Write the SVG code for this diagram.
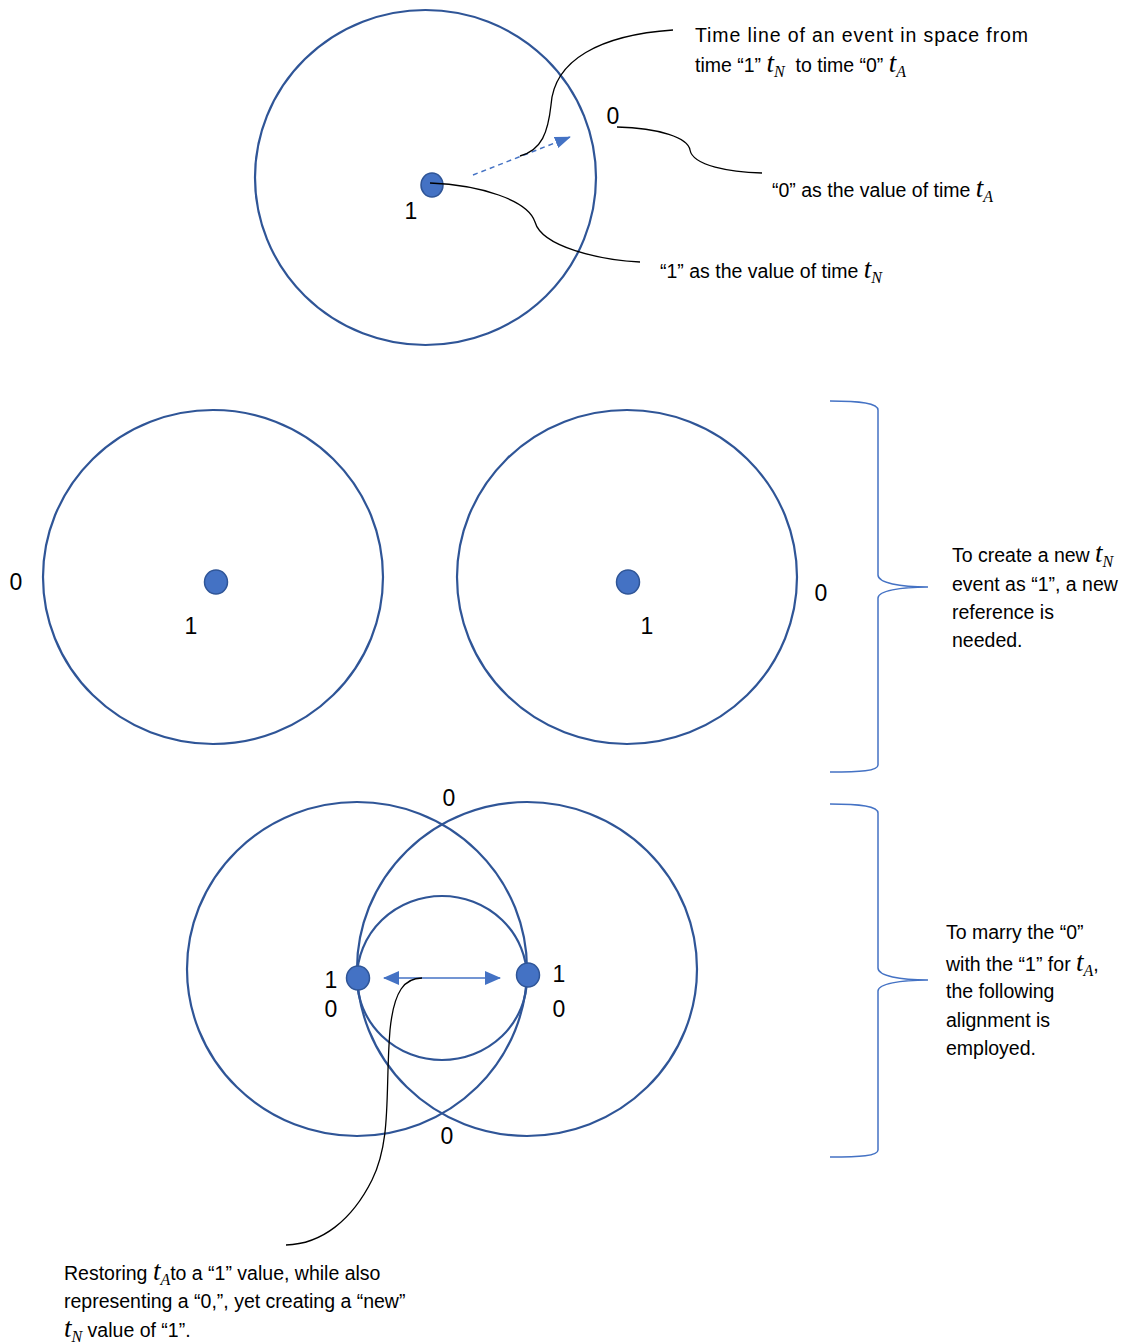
<svg xmlns="http://www.w3.org/2000/svg" width="1131" height="1343" viewBox="0 0 1131 1343">
<style>
.c{fill:none;stroke:#2F5597;stroke-width:2.2}
.d{fill:#4472C4;stroke:#2F5597;stroke-width:1.5}
.k{fill:none;stroke:#000;stroke-width:1.3}
.b{fill:none;stroke:#4472C4;stroke-width:1.5}
.t{font-family:"Liberation Sans",Arial,sans-serif;font-size:19.5px;fill:#000}
.n{font-family:"Liberation Sans",Arial,sans-serif;font-size:23px;fill:#000}
.m{font-family:"Liberation Serif","Times New Roman",serif;font-style:italic;font-size:27px}
.s{font-family:"Liberation Serif","Times New Roman",serif;font-style:italic;font-size:16px}
</style>
<defs>
<marker id="ah" markerWidth="16" markerHeight="12" refX="15" refY="6" orient="auto" markerUnits="userSpaceOnUse">
<path d="M0,0 L16,6 L0,12 z" fill="#4472C4"/>
</marker>
<marker id="ah2" markerWidth="16" markerHeight="14" refX="15" refY="7" orient="auto-start-reverse" markerUnits="userSpaceOnUse">
<path d="M0,0 L16,7 L0,14 z" fill="#4472C4"/>
</marker>
</defs>

<g id="top">
<ellipse class="c" cx="425.5" cy="177.5" rx="170.5" ry="167.5"/>
<ellipse id="dot-top" class="d" cx="432" cy="185" rx="11" ry="12"/>
<text class="n" x="411" y="219" text-anchor="middle">1</text>
<text class="n" x="613" y="124" text-anchor="middle">0</text>
</g>

<g id="mid-left">
<ellipse class="c" cx="213" cy="577" rx="170" ry="167"/>
<ellipse class="d" cx="216" cy="582" rx="11.5" ry="12"/>
<text class="n" x="191" y="634" text-anchor="middle">1</text>
<text class="n" x="16" y="590" text-anchor="middle">0</text>
</g>

<g id="mid-right">
<ellipse class="c" cx="627" cy="577" rx="170" ry="167"/>
<ellipse class="d" cx="628" cy="582" rx="11.5" ry="12"/>
<text class="n" x="647" y="634" text-anchor="middle">1</text>
<text class="n" x="821" y="601" text-anchor="middle">0</text>
</g>

<g id="bottom">
<ellipse class="c" cx="357" cy="969" rx="170" ry="167"/>
<ellipse class="c" cx="527" cy="969" rx="170" ry="167"/>
<ellipse class="c" cx="442" cy="978" rx="85" ry="82"/>
<ellipse class="d" cx="358" cy="978" rx="11.5" ry="12"/>
<ellipse class="d" cx="528" cy="975" rx="11.5" ry="12"/>
<text class="n" x="331" y="988" text-anchor="middle">1</text>
<text class="n" x="331" y="1017" text-anchor="middle">0</text>
<text class="n" x="559" y="982" text-anchor="middle">1</text>
<text class="n" x="559" y="1017" text-anchor="middle">0</text>
<text class="n" x="449" y="806" text-anchor="middle">0</text>
<text class="n" x="447" y="1144" text-anchor="middle">0</text>
</g>

<g id="connectors">
<line x1="473" y1="175" x2="570" y2="137" stroke="#4472C4" stroke-width="1.5" stroke-dasharray="5,4" marker-end="url(#ah)"/>
<path class="k" d="M520,156 C542,150 548,132 551,105 C554,60 600,35 673,30"/>
<path class="k" d="M617,127 C660,128 688,138 690,150 C693,166 730,172 762,173"/>
<path class="k" d="M430,183 C480,185 528,200 535,222 C542,247 600,260 640,262"/>
<line x1="384" y1="978" x2="500" y2="978" stroke="#4472C4" stroke-width="1.5" marker-start="url(#ah2)" marker-end="url(#ah2)"/>
<path class="k" d="M422,978 C405,978 394,990 390,1030 C385,1090 392,1140 372,1180 C352,1220 322,1244 286,1245"/>
<path class="b" d="M830,401 C860,401 878,403 878,410 L878,575 C878,583 900,587 928,587 C900,587 878,591 878,598 L878,765 C878,771 860,772 830,772"/>
<path class="b" d="M830,804 C860,804 878,806 878,813 L878,968 C878,976 900,980 928,980 C900,980 878,984 878,991 L878,1150 C878,1156 860,1157 830,1157"/>
</g>

<g id="label-timeline">
<text class="t" x="695" y="42" textLength="333" lengthAdjust="spacing">Time line of an event in space from</text>
<text class="t" x="695" y="72">time “1” <tspan class="m">t</tspan><tspan class="s" dy="5">N</tspan><tspan dy="-5">&#160; to time “0” </tspan><tspan class="m">t</tspan><tspan class="s" dy="5">A</tspan></text>
</g>
<g id="label-zero">
<text class="t" x="772" y="197">“0” as the value of time <tspan class="m">t</tspan><tspan class="s" dy="5">A</tspan></text>
</g>
<g id="label-one">
<text class="t" x="660" y="278">“1” as the value of time <tspan class="m">t</tspan><tspan class="s" dy="5">N</tspan></text>
</g>
<g id="label-create">
<text class="t" x="952" y="562">To create a new <tspan class="m">t</tspan><tspan class="s" dy="5">N</tspan></text>
<text class="t" x="952" y="591">event as “1”, a new</text>
<text class="t" x="952" y="619">reference is</text>
<text class="t" x="952" y="647">needed.</text>
</g>
<g id="label-marry">
<text class="t" x="946" y="939">To marry the “0”</text>
<text class="t" x="946" y="971">with the “1” for <tspan class="m">t</tspan><tspan class="s" dy="5">A</tspan><tspan dy="-5">,</tspan></text>
<text class="t" x="946" y="998">the following</text>
<text class="t" x="946" y="1027">alignment is</text>
<text class="t" x="946" y="1055">employed.</text>
</g>
<g id="label-restore">
<text class="t" x="64" y="1280">Restoring <tspan class="m">t</tspan><tspan class="s" dy="5">A</tspan><tspan dy="-5">to a “1” value, while also</tspan></text>
<text class="t" x="64" y="1308">representing a “0,”, yet creating a “new”</text>
<text class="t" x="64" y="1337"><tspan class="m">t</tspan><tspan class="s" dy="5">N</tspan><tspan dy="-5"> value of “1”.</tspan></text>
</g>
</svg>
